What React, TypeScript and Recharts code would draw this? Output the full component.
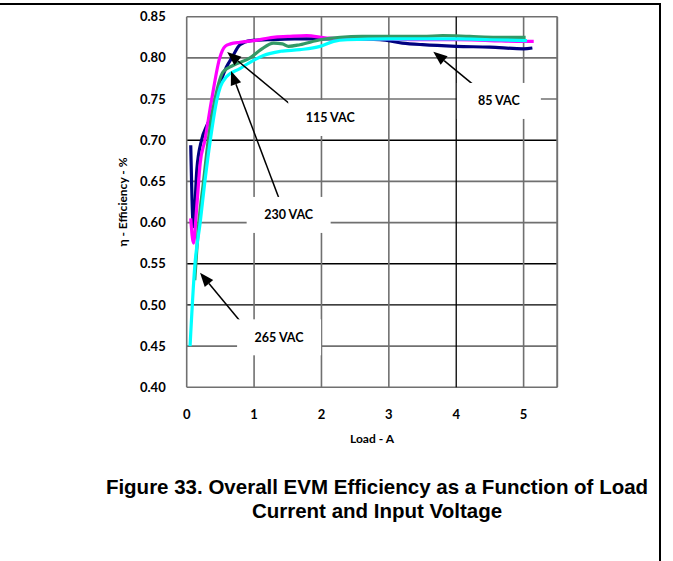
import { LineChart, Line, XAxis, YAxis, CartesianGrid, ReferenceLine, ReferenceDot } from 'recharts';

// load (A) / efficiency pairs, one pair of arrays per input voltage
const load85 = [0.06, 0.10, 0.15, 0.22, 0.30, 0.37, 0.45, 0.52, 0.59, 0.67, 0.79, 0.95, 1.2, 1.6, 2.0, 2.5, 2.87, 3.2, 3.5, 4.0, 4.5, 5.0, 5.13];
const eff85 = [0.694, 0.595, 0.664, 0.700, 0.718, 0.730, 0.755, 0.775, 0.789, 0.800, 0.816, 0.821, 0.822, 0.823, 0.823, 0.823, 0.822, 0.818, 0.816, 0.814, 0.813, 0.811, 0.812];

const load115 = [0.06, 0.10, 0.15, 0.20, 0.27, 0.37, 0.49, 0.57, 0.65, 0.79, 1.0, 1.28, 1.5, 1.78, 2.08, 2.5, 3.0, 3.5, 4.0, 4.5, 5.0, 5.15];
const eff115 = [0.605, 0.575, 0.620, 0.672, 0.700, 0.749, 0.800, 0.814, 0.817, 0.819, 0.821, 0.825, 0.826, 0.827, 0.824, 0.823, 0.823, 0.822, 0.822, 0.821, 0.820, 0.820];

const load230 = [0.12, 0.18, 0.25, 0.32, 0.42, 0.54, 0.69, 0.94, 1.1, 1.29, 1.42, 1.51, 1.68, 1.98, 2.28, 2.6, 3.0, 3.5, 3.8, 4.2, 4.6, 5.03];
const eff230 = [0.530, 0.600, 0.650, 0.700, 0.750, 0.783, 0.791, 0.800, 0.810, 0.818, 0.817, 0.814, 0.816, 0.822, 0.825, 0.826, 0.826, 0.826, 0.827, 0.826, 0.825, 0.825];

const load265 = [0.05, 0.12, 0.20, 0.27, 0.35, 0.45, 0.50, 0.59, 0.79, 0.99, 1.14, 1.39, 1.68, 1.98, 2.18, 2.38, 3.0, 3.5, 4.0, 4.5, 5.05];
const eff265 = [0.450, 0.547, 0.600, 0.650, 0.700, 0.750, 0.765, 0.777, 0.787, 0.797, 0.803, 0.808, 0.810, 0.814, 0.820, 0.822, 0.823, 0.823, 0.823, 0.822, 0.821];

const xTicks = [0, 1, 2, 3, 4, 5];
const yTicks = [0.40, 0.45, 0.50, 0.55, 0.60, 0.65, 0.70, 0.75, 0.80, 0.85];
// grid lines that are printed black rather than grey in the original
const darkX = [4];
const darkY = [0.50, 0.55, 0.70];

// callouts: label text, where the box sits, where the arrow starts and points to
const callouts = [
  { text: '115 VAC', bx: 2.13, by: 0.727, from: [1.634, 0.737], to: [0.60, 0.807] },
  { text: '85 VAC', bx: 4.633, by: 0.7477, from: [4.32, 0.763], to: [3.66, 0.8075] },
  { text: '230 VAC', bx: 1.513, by: 0.6093, from: [1.387, 0.6255], to: [0.658, 0.784] },
  { text: '265 VAC', bx: 1.371, by: 0.4607, from: [0.877, 0.472], to: [0.198, 0.539] },
];

const toPoints = (xs: number[], ys: number[]) => xs.map((x, i) => ({ load: x, eff: ys[i] }));

const series = [
  { name: '85 VAC', data: toPoints(load85, eff85), color: '#000080' },
  { name: '115 VAC', data: toPoints(load115, eff115), color: '#FF00FF' },
  { name: '230 VAC', data: toPoints(load230, eff230), color: '#339966' },
  { name: '265 VAC', data: toPoints(load265, eff265), color: '#00FFFF' },
];

const FONT = 'Lato, "Open Sans", sans-serif';
const GREY = '#707070';

const YLabel = (props: any) => {
  const { viewBox } = props;
  const cx = viewBox.x + 16;
  const cy = viewBox.y + viewBox.height / 2;
  return (
    <text x={cx} y={cy} transform={`rotate(-90 ${cx} ${cy})`} textAnchor="middle" dominantBaseline="central"
      fontFamily={FONT} fontWeight="bold" fontSize={12} fill="#000">
      η - Efficiency - %
    </text>
  );
};

const XLabel = (props: any) => {
  const { viewBox } = props;
  const cx = viewBox.x + viewBox.width / 2;
  const cy = viewBox.y + 51;
  return (
    <text x={cx} y={cy} textAnchor="middle" dominantBaseline="central"
      fontFamily={FONT} fontWeight="bold" fontSize={12} fill="#000">
      Load - A
    </text>
  );
};

const Arrow = (props: any) => {
  const { x1, y1, x2, y2 } = props;
  const ang = Math.atan2(y2 - y1, x2 - x1);
  const len = 14;
  const half = 5.5;
  const bx = x2 - len * Math.cos(ang);
  const by = y2 - len * Math.sin(ang);
  const px = -Math.sin(ang) * half;
  const py = Math.cos(ang) * half;
  return (
    <g>
      <line x1={x1} y1={y1} x2={bx} y2={by} stroke="#000" strokeWidth={1.5} />
      <polygon points={`${x2},${y2} ${bx + px},${by + py} ${bx - px},${by - py}`} fill="#000" />
    </g>
  );
};

const labelBox = (text: string) => (props: any) => {
  const { cx, cy } = props;
  return (
    <g>
      <rect x={cx - 42} y={cy - 18} width={84} height={36} fill="#fff" />
      <text x={cx} y={cy} textAnchor="middle" dominantBaseline="central"
        fontFamily={FONT} fontWeight="bold" fontSize={12.5} fill="#000">
        {text}
      </text>
    </g>
  );
};

const hLine = (p: any) => {
  const v = yTicks[p.index];
  const dark = darkY.includes(v);
  return <line key={p.key} x1={p.x1} y1={p.y1} x2={p.x2} y2={p.y2} stroke={dark ? '#000' : GREY} strokeWidth={dark ? 1.3 : 1.6} />;
};

const vLine = (p: any) => {
  const v = xTicks[p.index];
  const dark = darkX.includes(v);
  return <line key={p.key} x1={p.x1} y1={p.y1} x2={p.x2} y2={p.y2} stroke={dark ? '#000' : GREY} strokeWidth={dark ? 1.3 : 1.6} />;
};

export default function App() {
  return (
    <div style={{ position: 'absolute', left: 0, top: 0, width: 673, height: 561, overflow: 'hidden', background: '#fff' }}>
      <div style={{ position: 'absolute', left: -2, top: 3, width: 661, height: 600, borderTop: '2px solid #000', borderRight: '2px solid #000' }} />
      <div style={{ position: 'absolute', left: 0, top: 0 }}>
        <LineChart width={673} height={561} margin={{ top: 16.7, right: 115.7, left: 106.7, bottom: 113.7 }}>
          <CartesianGrid horizontal={hLine} vertical={vLine} />
          <XAxis
            type="number"
            dataKey="load"
            domain={[0, 5.5]}
            ticks={xTicks}
            allowDuplicatedCategory={false}
            axisLine={false}
            tickLine={false}
            tickSize={0}
            tickMargin={22}
            height={60}
            tick={{ fontFamily: FONT, fontWeight: 'bold', fontSize: 13, fill: '#000' }}
            label={<XLabel />}
          />
          <YAxis
            type="number"
            dataKey="eff"
            domain={[0.4, 0.85]}
            ticks={yTicks}
            tickFormatter={(v) => v.toFixed(2)}
            axisLine={false}
            tickLine={false}
            tickSize={0}
            tickMargin={21}
            width={80}
            tick={{ fontFamily: FONT, fontWeight: 'bold', fontSize: 13, fill: '#000' }}
            label={<YLabel />}
          />
          <ReferenceLine x={5.5} stroke={GREY} strokeWidth={1.6} />

          {series.map((s) => (
            <Line
              key={s.name}
              data={s.data}
              dataKey="eff"
              type="monotone"
              stroke={s.color}
              strokeWidth={3.2}
              dot={false}
              isAnimationActive={false}
              name={s.name}
            />
          ))}

          {callouts.map((c) => (
            <ReferenceDot key={c.text + '-box'} x={c.bx} y={c.by} r={0} shape={labelBox(c.text)} />
          ))}
          {callouts.map((c) => (
            <ReferenceLine
              key={c.text + '-arrow'}
              segment={[{ x: c.from[0], y: c.from[1] }, { x: c.to[0], y: c.to[1] }]}
              shape={<Arrow />}
            />
          ))}
        </LineChart>
      </div>
      <div style={{
        position: 'absolute', left: 77, top: 475, width: 600, textAlign: 'center',
        fontFamily: '"Liberation Sans", Arial, sans-serif', fontWeight: 'bold', fontSize: 20.5, lineHeight: '24px', color: '#000'
      }}>
        Figure 33. Overall EVM Efficiency as a Function of Load<br />Current and Input Voltage
      </div>
    </div>
  );
}
